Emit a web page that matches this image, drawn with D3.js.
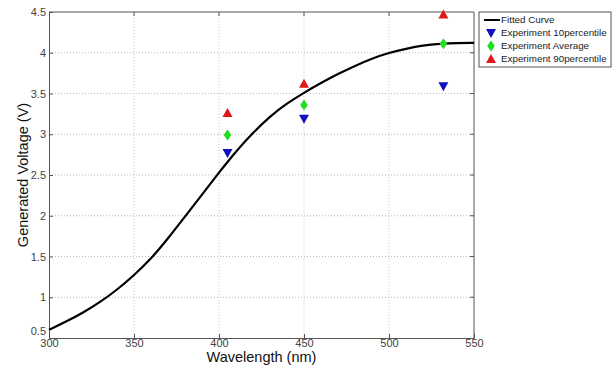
<!DOCTYPE html>
<html>
<head>
<meta charset="utf-8">
<script src="https://cdn.jsdelivr.net/npm/d3@7"></script>
<style>
  body { margin: 0; background: #fff; }
  svg { font-family: "Liberation Sans", Arial, sans-serif; }
</style>
</head>
<body>
<div class="chart"></div>
<script>
// fitted curve
const curveWl = [300, 310, 320, 330, 340, 350, 360, 370, 380, 390, 400, 410, 420, 430, 440, 450, 460, 470, 480, 490, 500, 510, 520, 530, 540, 550];
const curveV = [0.60, 0.70, 0.81, 0.94, 1.09, 1.27, 1.47, 1.72, 1.99, 2.26, 2.53, 2.79, 3.02, 3.22, 3.38, 3.51, 3.63, 3.74, 3.84, 3.93, 4.00, 4.05, 4.09, 4.11, 4.12, 4.12];

// experiment points
const expWl = [405, 450, 532];
const p10 = [2.77, 3.19, 3.59];
const avg = [2.99, 3.36, 4.11];
const p90 = [3.26, 3.62, 4.47];

const xTicks = [300, 350, 400, 450, 500, 550];
const yTicks = [0.5, 1, 1.5, 2, 2.5, 3, 3.5, 4, 4.5];

const W = 614, H = 367;
const margin = { top: 12, right: 140, bottom: 29, left: 49 };
const width = 474 - margin.left;
const height = 338 - margin.top;

const svg = d3.select(".chart").append("svg")
    .attr("width", W).attr("height", H);
const g = svg.append("g")
    .attr("transform", "translate(" + margin.left + "," + margin.top + ")");

const x = d3.scaleLinear().domain([300, 550]).range([0, width]);
const y = d3.scaleLinear().domain([0.5, 4.5]).range([height, 0]);

// grid
g.append("g").selectAll("line").data(xTicks.slice(1, -1)).enter().append("line")
    .attr("x1", d => x(d)).attr("x2", d => x(d)).attr("y1", 0).attr("y2", height)
    .attr("stroke", "#c8c8c8").attr("stroke-dasharray", "1,2");
g.append("g").selectAll("line").data(yTicks.slice(1, -1)).enter().append("line")
    .attr("x1", 0).attr("x2", width).attr("y1", d => y(d)).attr("y2", d => y(d))
    .attr("stroke", "#b8b8b8").attr("stroke-dasharray", "1,2");

// axes
const xAxis = d3.axisBottom(x).tickValues(xTicks).tickSizeInner(-4).tickSizeOuter(0).tickPadding(2);
const yAxis = d3.axisLeft(y).tickValues(yTicks).tickSizeInner(-4).tickSizeOuter(0).tickPadding(3)
    .tickFormat(d => d3.format("")(d));
const gx = g.append("g").attr("transform", "translate(0," + height + ")").call(xAxis);
const gy = g.append("g").call(yAxis);
[gx, gy].forEach(a => {
    a.select(".domain").attr("stroke", "#555");
    a.selectAll(".tick line").attr("stroke", "#555");
    a.selectAll("text").attr("fill", "#444").style("font-size", "11px");
});
gx.selectAll("text").attr("dy", "0.6em");
gy.selectAll("text").filter(d => d === 0.5).attr("dy", "-0.3em");

// top and right box
g.append("line").attr("x1", 0).attr("x2", width).attr("y1", 0).attr("y2", 0).attr("stroke", "#555");
g.append("line").attr("x1", width).attr("x2", width).attr("y1", 0).attr("y2", height).attr("stroke", "#555");
g.append("g").selectAll("line").data(xTicks.slice(1, -1)).enter().append("line")
    .attr("x1", d => x(d)).attr("x2", d => x(d)).attr("y1", 0).attr("y2", 4).attr("stroke", "#555");
g.append("g").selectAll("line").data(yTicks.slice(1, -1)).enter().append("line")
    .attr("x1", width - 4).attr("x2", width).attr("y1", d => y(d)).attr("y2", d => y(d)).attr("stroke", "#555");

// axis labels
svg.append("text").attr("x", margin.left + width / 2).attr("y", 362)
    .attr("text-anchor", "middle").style("font-size", "14.5px").attr("fill", "#111")
    .text("Wavelength (nm)");
svg.append("text").attr("transform", "translate(28," + (margin.top + height / 2) + ") rotate(-90)")
    .attr("text-anchor", "middle").style("font-size", "14.5px").attr("fill", "#111")
    .text("Generated Voltage (V)");

// fitted curve
const curveData = curveWl.map((w, i) => [w, curveV[i]]);
const line = d3.line().x(d => x(d[0])).y(d => y(d[1])).curve(d3.curveBasis);
g.append("path").datum(curveData).attr("d", line)
    .attr("fill", "none").attr("stroke", "#000").attr("stroke-width", 2.2);

// markers
const triDown = "M-5,-4L5,-4L0,5Z";
const triUp = "M-5,4L5,4L0,-5Z";
const diamond = "M0,-5.5L3.8,0L0,5.5L-3.8,0Z";
function drawMarkers(vals, path, color) {
    g.append("g").selectAll("path").data(expWl.map((w, i) => [w, vals[i]])).enter().append("path")
        .attr("transform", d => "translate(" + x(d[0]) + "," + y(d[1]) + ")")
        .attr("d", path).attr("fill", color);
}
drawMarkers(p10, triDown, "#1010c0");
drawMarkers(avg, diamond, "#22dd22");
drawMarkers(p90, triUp, "#e01818");

// legend
const legend = svg.append("g").attr("transform", "translate(479,12)");
legend.append("rect").attr("width", 132).attr("height", 55)
    .attr("fill", "#fff").attr("stroke", "#555");
const items = [
    { label: "Fitted Curve", type: "line" },
    { label: "Experiment 10percentile", path: triDown, color: "#1010c0" },
    { label: "Experiment Average", path: diamond, color: "#22dd22" },
    { label: "Experiment 90percentile", path: triUp, color: "#e01818" }
];
items.forEach((it, i) => {
    const yy = 8 + i * 13;
    if (it.type === "line") {
        legend.append("line").attr("x1", 5).attr("x2", 21).attr("y1", yy).attr("y2", yy)
            .attr("stroke", "#000").attr("stroke-width", 2);
    } else {
        legend.append("path").attr("transform", "translate(12," + yy + ")")
            .attr("d", it.path).attr("fill", it.color);
    }
    legend.append("text").attr("x", 22).attr("y", yy).attr("dy", "0.35em")
        .style("font-size", "9.8px").attr("fill", "#222").text(it.label);
});
</script>
</body>
</html>
